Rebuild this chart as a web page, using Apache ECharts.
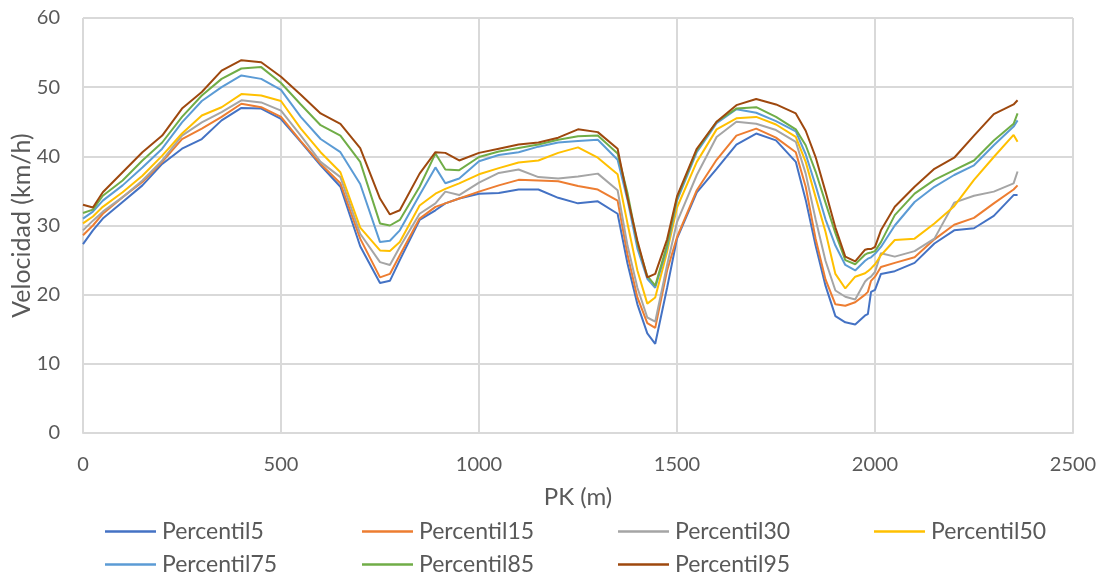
<!DOCTYPE html>
<html>
<head>
<meta charset="utf-8">
<title>Velocidad por percentil</title>
<script src="https://cdn.jsdelivr.net/npm/echarts@6/dist/echarts.min.js"></script>
<style>
  html, body { margin: 0; padding: 0; background: #ffffff; }
  #chart { width: 1101px; height: 578px; }
</style>
</head>
<body>
<div id="chart"></div>
<script>
// PK positions (m) shared by every percentile curve
const pk = [0, 25, 50, 100, 150, 200, 250, 300, 350, 400, 450, 500, 550, 600, 650, 700,
  750, 775, 800, 850, 890, 915, 950, 1000, 1050, 1100, 1150, 1200, 1250, 1300, 1350,
  1375, 1400, 1425, 1445, 1475, 1500, 1550, 1600, 1650, 1700, 1750, 1800, 1825, 1850,
  1875, 1900, 1925, 1950, 1975, 1982, 1990, 2000, 2015, 2050, 2100, 2150, 2200, 2250,
  2300, 2350, 2360];

// Speed (km/h) for each percentile at the PK positions above
const percentil5 = [27.3, 29.3, 31.0, 33.4, 35.8, 38.9, 41.1, 42.5, 45.2, 47.0, 46.9, 45.4, 42.1, 38.7, 35.6, 27.0,
  21.7, 22.0, 25.0, 30.8, 32.2, 33.2, 33.9, 34.6, 34.7, 35.2, 35.2, 34.0, 33.2, 33.5, 31.7,
  24.5, 18.6, 14.4, 12.9, 21.0, 28.1, 34.8, 38.2, 41.7, 43.3, 42.3, 39.2, 33.7, 27.1,
  21.3, 16.9, 16.0, 15.7, 17.0, 17.2, 20.4, 20.7, 23.0, 23.4, 24.6, 27.4, 29.3, 29.6,
  31.4, 34.4, 34.4];
const percentil15 = [28.6, 30.0, 31.7, 34.1, 36.3, 39.2, 42.5, 44.0, 45.7, 47.6, 47.1, 45.7, 42.2, 38.9, 36.1, 28.1,
  22.5, 23.0, 25.7, 31.0, 32.7, 33.2, 33.9, 34.9, 35.8, 36.6, 36.5, 36.4, 35.7, 35.2, 33.6,
  25.8, 19.6, 15.9, 15.2, 23.5, 28.3, 35.1, 39.5, 43.0, 44.0, 42.7, 40.6, 35.6, 28.1,
  22.2, 18.6, 18.4, 18.9, 20.0, 20.4, 22.0, 22.6, 24.0, 24.6, 25.4, 28.0, 30.1, 31.1,
  33.2, 35.2, 35.8];
const percentil30 = [29.3, 30.7, 32.0, 34.1, 36.5, 39.4, 43.0, 44.9, 46.4, 48.1, 47.8, 46.6, 43.0, 39.2, 37.0, 28.8,
  24.7, 24.3, 26.9, 31.7, 33.2, 34.9, 34.4, 36.2, 37.6, 38.1, 37.0, 36.8, 37.1, 37.5, 35.1,
  27.1, 21.0, 16.7, 16.1, 24.3, 30.5, 37.3, 42.8, 45.0, 44.7, 43.8, 42.1, 37.5, 30.9,
  24.9, 20.6, 19.7, 19.3, 21.9, 22.3, 22.6, 23.3, 26.0, 25.5, 26.3, 28.1, 33.3, 34.3,
  34.9, 36.1, 37.8];
const percentil50 = [30.3, 31.3, 32.7, 34.8, 37.2, 40.1, 43.3, 45.9, 47.1, 49.0, 48.8, 48.0, 44.0, 40.6, 37.7, 29.7,
  26.4, 26.3, 27.6, 32.9, 34.6, 35.3, 36.1, 37.4, 38.3, 39.1, 39.4, 40.5, 41.3, 39.8, 37.4,
  30.3, 23.5, 18.7, 19.6, 26.2, 32.6, 39.2, 43.9, 45.5, 45.7, 44.6, 42.8, 39.2, 34.1,
  29.1, 23.0, 20.9, 22.6, 23.1, 23.4, 23.8, 24.4, 25.7, 27.9, 28.1, 30.3, 32.8, 36.6,
  39.9, 43.1, 42.1];
const percentil75 = [31.0, 32.0, 33.6, 35.8, 38.4, 41.1, 44.9, 48.0, 50.0, 51.7, 51.2, 49.6, 45.7, 42.5, 40.6, 36.0,
  27.6, 27.8, 29.3, 34.4, 38.4, 36.1, 36.8, 39.3, 40.2, 40.6, 41.4, 42.0, 42.2, 42.4, 39.5,
  33.7, 26.7, 22.3, 21.0, 26.8, 33.6, 40.6, 44.8, 46.8, 46.3, 45.1, 43.6, 40.3, 35.8,
  30.9, 27.1, 24.3, 23.5, 24.9, 25.2, 25.4, 25.9, 26.9, 30.0, 33.4, 35.6, 37.3, 38.7,
  41.6, 44.3, 45.2];
const percentil85 = [31.8, 32.3, 34.3, 36.5, 39.4, 42.0, 45.7, 48.8, 51.2, 52.7, 52.9, 50.6, 47.5, 44.5, 43.0, 39.2,
  30.3, 30.0, 30.8, 35.6, 40.4, 38.1, 38.0, 39.9, 40.7, 41.2, 41.7, 42.4, 42.9, 43.0, 40.4,
  34.7, 27.4, 22.7, 21.3, 27.2, 34.0, 40.9, 45.0, 46.9, 47.1, 45.7, 43.9, 41.6, 37.8,
  33.3, 28.9, 25.0, 24.4, 25.8, 26.0, 26.1, 26.3, 27.6, 31.5, 34.6, 36.6, 38.0, 39.4,
  42.3, 44.7, 46.2];
const percentil95 = [33.0, 32.6, 34.8, 37.7, 40.6, 43.0, 46.9, 49.3, 52.4, 53.9, 53.6, 51.5, 48.9, 46.2, 44.7, 41.2,
  33.9, 31.6, 32.2, 37.5, 40.6, 40.5, 39.4, 40.5, 41.1, 41.7, 42.0, 42.7, 43.9, 43.5, 41.1,
  34.0, 27.8, 22.5, 23.0, 28.0, 34.2, 41.1, 45.0, 47.4, 48.3, 47.5, 46.2, 43.7, 39.9,
  34.9, 29.7, 25.5, 24.8, 26.5, 26.6, 26.6, 26.9, 29.3, 32.7, 35.6, 38.2, 39.8, 43.0,
  46.1, 47.5, 48.1];

const seriesNames = ['Percentil5', 'Percentil15', 'Percentil30', 'Percentil50',
  'Percentil75', 'Percentil85', 'Percentil95'];
const seriesValues = [percentil5, percentil15, percentil30, percentil50,
  percentil75, percentil85, percentil95];
const seriesColors = ['#4472C4', '#ED7D31', '#A5A5A5', '#FFC000', '#5B9BD5', '#70AD47', '#9E480E'];

const xTicks = { min: 0, max: 2500, interval: 500 };
const yTicks = { min: 0, max: 60, interval: 10 };

const FONT = 'Lato';
const TEXT = '#595959';
const GRID = '#d9d9d9';

// Legend laid out as a 4-column grid, one legend block per entry
const legendCols = [105, 362, 618, 874];
const legendRows = [520, 553];
const legends = seriesNames.map((name, i) => ({
  data: [name],
  left: legendCols[i % 4],
  top: legendRows[Math.floor(i / 4)],
  icon: 'rect',
  itemWidth: 51,
  itemHeight: 2.5,
  itemGap: 0,
  padding: 0,
  textStyle: { fontFamily: FONT, fontSize: 23, color: TEXT, padding: [0, 0, 0, 1] }
}));

const chart = echarts.init(document.getElementById('chart'), null, { renderer: 'canvas' });
chart.setOption({
  animation: false,
  backgroundColor: '#ffffff',
  grid: { left: 83, right: 28, top: 18, bottom: 145, containLabel: false, outerBoundsMode: 'none' },
  legend: legends,
  xAxis: {
    type: 'value',
    min: xTicks.min, max: xTicks.max, interval: xTicks.interval,
    name: 'PK (m)',
    nameLocation: 'middle',
    nameGap: 52,
    nameMoveOverlap: false,
    nameTextStyle: { fontFamily: FONT, fontSize: 24, color: TEXT },
    axisLine: { show: true, lineStyle: { color: GRID, width: 2 } },
    axisTick: { show: false },
    axisLabel: { fontFamily: FONT, fontSize: 20, color: TEXT, margin: 22, formatter: (v) => String(v) },
    splitLine: { show: true, lineStyle: { color: GRID, width: 2 } }
  },
  yAxis: {
    type: 'value',
    min: yTicks.min, max: yTicks.max, interval: yTicks.interval,
    name: 'Velocidad (km/h)',
    nameLocation: 'middle',
    nameGap: 49,
    nameMoveOverlap: false,
    nameRotate: 90,
    nameTextStyle: { fontFamily: FONT, fontSize: 25, color: TEXT },
    axisLine: { show: false },
    axisTick: { show: false },
    axisLabel: { fontFamily: FONT, fontSize: 20, color: TEXT, margin: 23, formatter: (v) => String(v) },
    splitLine: { show: true, lineStyle: { color: GRID, width: 2 } }
  },
  series: seriesNames.map((name, i) => ({
    name: name,
    type: 'line',
    data: pk.map((x, j) => [x, seriesValues[i][j]]),
    showSymbol: false,
    symbol: 'none',
    smooth: false,
    color: seriesColors[i],
    lineStyle: { color: seriesColors[i], width: 2 }
  }))
});
</script>
</body>
</html>
